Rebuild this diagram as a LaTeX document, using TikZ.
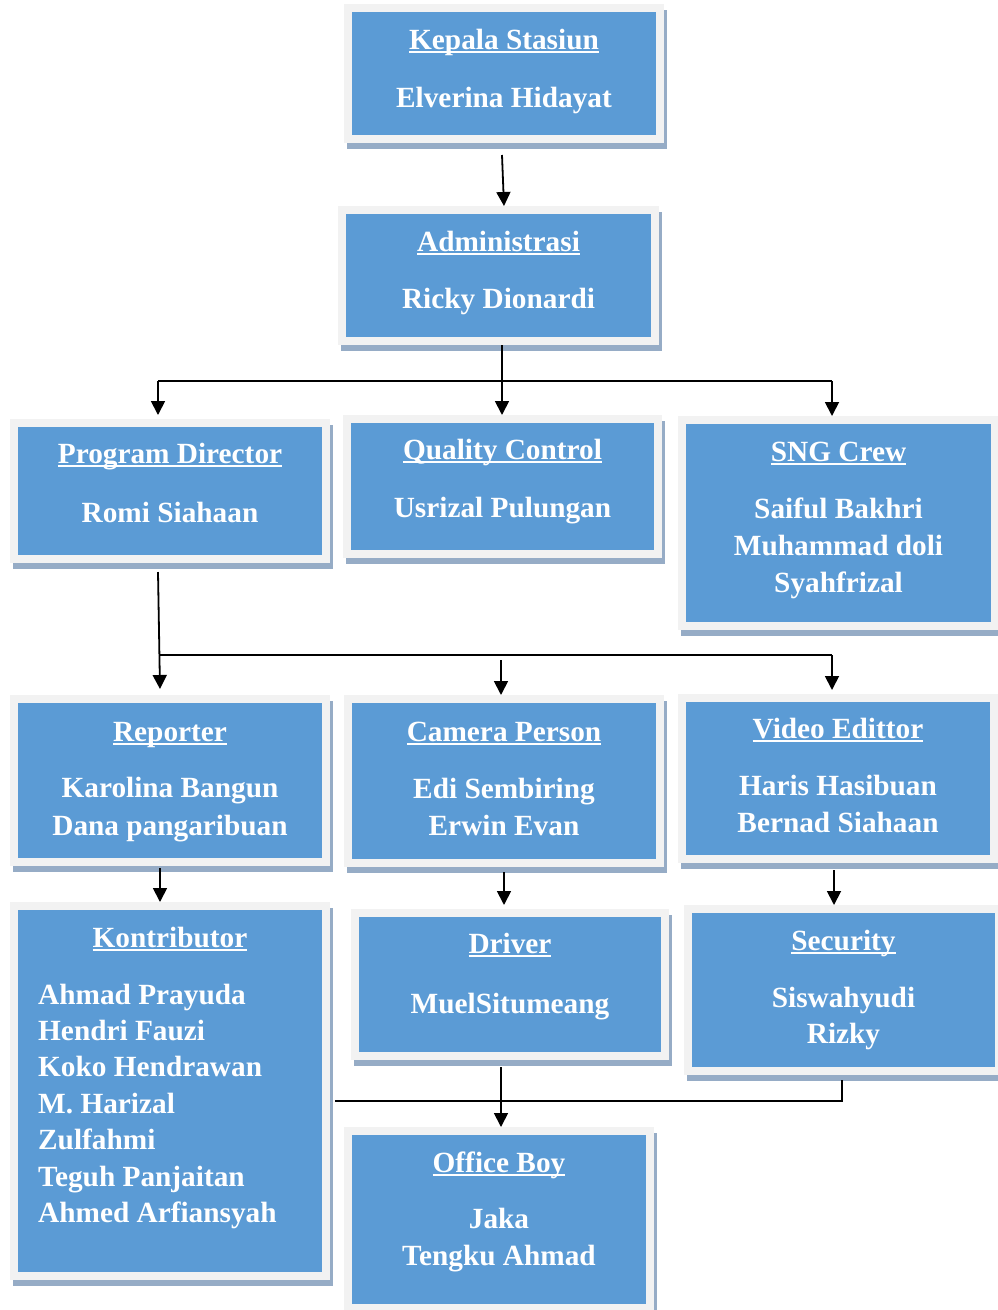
\documentclass[tikz,border=0pt]{standalone}
\usepackage{fontspec}
\setmainfont{Liberation Serif}
\usetikzlibrary{arrows.meta}
\definecolor{boxblue}{RGB}{91,155,213}
\definecolor{framegray}{RGB}{242,242,242}
\definecolor{shadowc}{RGB}{150,172,198}
\newcommand\myul[1]{\setbox0=\hbox{#1}\rlap{\rule[-4pt]{\wd0}{2.4pt}}\box0}
\tikzset{
  orgbox/.style={fill=boxblue, draw=framegray, line width=8pt, inner sep=0pt, outer sep=4pt,
    preaction={draw=shadowc, fill=shadowc, line width=8pt, transform canvas={shift={(3pt,-6pt)}}}},
  ttl/.style={anchor=base, text=white, font=\bfseries\fontsize{29.3}{36}\selectfont, inner sep=0pt},
  lft/.style={anchor=base west, text=white, font=\bfseries\fontsize{29.3}{36}\selectfont, inner sep=0pt},
  ln/.style={draw=black, line width=1.7pt},
  arr/.style={draw=black, line width=1.8pt, -{Triangle[width=14pt,length=14pt]}}
}
\begin{document}
\begin{tikzpicture}[x=1pt,y=-1pt]
\useasboundingbox (0,0) rectangle (997,1310);
% boxes
\node[orgbox, minimum width=312, minimum height=131] (kep) at (504,73.5) {};
\node[orgbox, minimum width=313, minimum height=131] (adm) at (498.5,275.5) {};
\node[orgbox, minimum width=312, minimum height=136] (pd) at (170,491) {};
\node[orgbox, minimum width=311, minimum height=135] (qc) at (502.5,486.5) {};
\node[orgbox, minimum width=313, minimum height=206] (sng) at (838.5,523) {};
\node[orgbox, minimum width=312, minimum height=163] (rep) at (170,780.5) {};
\node[orgbox, minimum width=312, minimum height=164] (cam) at (504,781) {};
\node[orgbox, minimum width=312, minimum height=161] (vid) at (838,778.5) {};
\node[orgbox, minimum width=312, minimum height=370] (kon) at (170,1091) {};
\node[orgbox, minimum width=310, minimum height=143] (drv) at (510,984.5) {};
\node[orgbox, minimum width=311, minimum height=162] (sec) at (843.5,990) {};
\node[orgbox, minimum width=302, minimum height=177] (ob) at (499,1219.5) {};
% texts
\node[ttl] (kept) at (504,49) {\myul{Kepala Stasiun}};
\node[ttl] (kepn) at (504,107) {Elverina Hidayat};
\node[ttl] (admt) at (498.5,251) {\myul{Administrasi}};
\node[ttl] (admn) at (498.5,308) {Ricky Dionardi};
\node[ttl] (pdt) at (170,463) {\myul{Program Director}};
\node[ttl] (pdn) at (170,522) {Romi Siahaan};
\node[ttl] (qct) at (502.5,459) {\myul{Quality Control}};
\node[ttl] (qcn) at (502.5,517) {Usrizal Pulungan};
\node[ttl] (sngt) at (838.5,461) {\myul{SNG Crew}};
\node[ttl] (sng1) at (838.5,518) {Saiful Bakhri};
\node[ttl] (sng2) at (838.5,555) {Muhammad doli};
\node[ttl] (sng3) at (838.5,592) {Syahfrizal};
\node[ttl] (rept) at (170,741) {\myul{Reporter}};
\node[ttl] (rep1) at (170,797) {Karolina Bangun};
\node[ttl] (rep2) at (170,835) {Dana pangaribuan};
\node[ttl] (camt) at (504,741) {\myul{Camera Person}};
\node[ttl] (cam1) at (504,798) {Edi Sembiring};
\node[ttl] (cam2) at (504,835) {Erwin Evan};
\node[ttl] (vidt) at (838,738) {\myul{Video Edittor}};
\node[ttl] (vid1) at (838,795) {Haris Hasibuan};
\node[ttl] (vid2) at (838,832) {Bernad Siahaan};
\node[ttl] (kont) at (170,947) {\myul{Kontributor}};
\node[lft] (kon1) at (38,1004) {Ahmad Prayuda};
\node[lft] (kon2) at (38,1040) {Hendri Fauzi};
\node[lft] (kon3) at (38,1076) {Koko Hendrawan};
\node[lft] (kon4) at (38,1113) {M. Harizal};
\node[lft] (kon5) at (38,1149) {Zulfahmi};
\node[lft] (kon6) at (38,1186) {Teguh Panjaitan};
\node[lft] (kon7) at (38,1222) {Ahmed Arfiansyah};
\node[ttl] (drvt) at (510,953) {\myul{Driver}};
\node[ttl] (drvn) at (510,1013) {MuelSitumeang};
\node[ttl] (sect) at (843.5,950) {\myul{Security}};
\node[ttl] (sec1) at (843.5,1007) {Siswahyudi};
\node[ttl] (sec2) at (843.5,1043) {Rizky};
\node[ttl] (obt) at (499,1172) {\myul{Office Boy}};
\node[ttl] (ob1) at (499,1228) {Jaka};
\node[ttl] (ob2) at (499,1265) {Tengku Ahmad};
% connectors
\draw[arr] ([xshift=-2pt,yshift=-12pt]kep.south) -- ([xshift=5.5pt]adm.north);
\coordinate (b1l) at (158,381);
\coordinate (b1m) at (502,381);
\coordinate (b1r) at (832,381);
\draw[ln] ([xshift=3.5pt]adm.south) -- (b1m);
\draw[ln] (b1l) -- (b1r);
\draw[arr] (b1l) -- ([yshift=4pt]b1l |- pd.north);
\draw[arr] (b1m) -- (b1m |- qc.north);
\draw[arr] (b1r) -- (b1r |- sng.north);
\coordinate (b2l) at (160,655);
\coordinate (b2m) at (501,655);
\coordinate (b2r) at (832,655);
\draw[arr] ([xshift=-12pt,yshift=-9pt]pd.south) -- ([xshift=-10pt,yshift=6pt]rep.north);
\draw[ln] (b2l) -- (b2r);
\draw[arr] ([yshift=-5pt]b2m) -- (b2m |- cam.north);
\draw[arr] (b2r) -- ([yshift=4pt]b2r |- vid.north);
\draw[arr] ([xshift=-10pt,yshift=-2pt]rep.south) -- ([xshift=-10pt]kon.north);
\draw[arr] ([yshift=-5pt]cam.south) -- ([yshift=4pt]cam.south |- drv.north);
\draw[arr] ([xshift=-4pt,yshift=-7pt]vid.south) -- ([xshift=-4pt]vid.south |- sec.north);
\draw[arr] ([xshift=-9pt,yshift=-7pt]drv.south) -- ([xshift=2pt]ob.north);
\coordinate (b3l) at (335,1101);
\coordinate (b3r) at (842,1101);
\draw[ln] (b3l) -- (b3r) -- ([yshift=-5pt]b3r |- sec.south);
\end{tikzpicture}
\end{document}
